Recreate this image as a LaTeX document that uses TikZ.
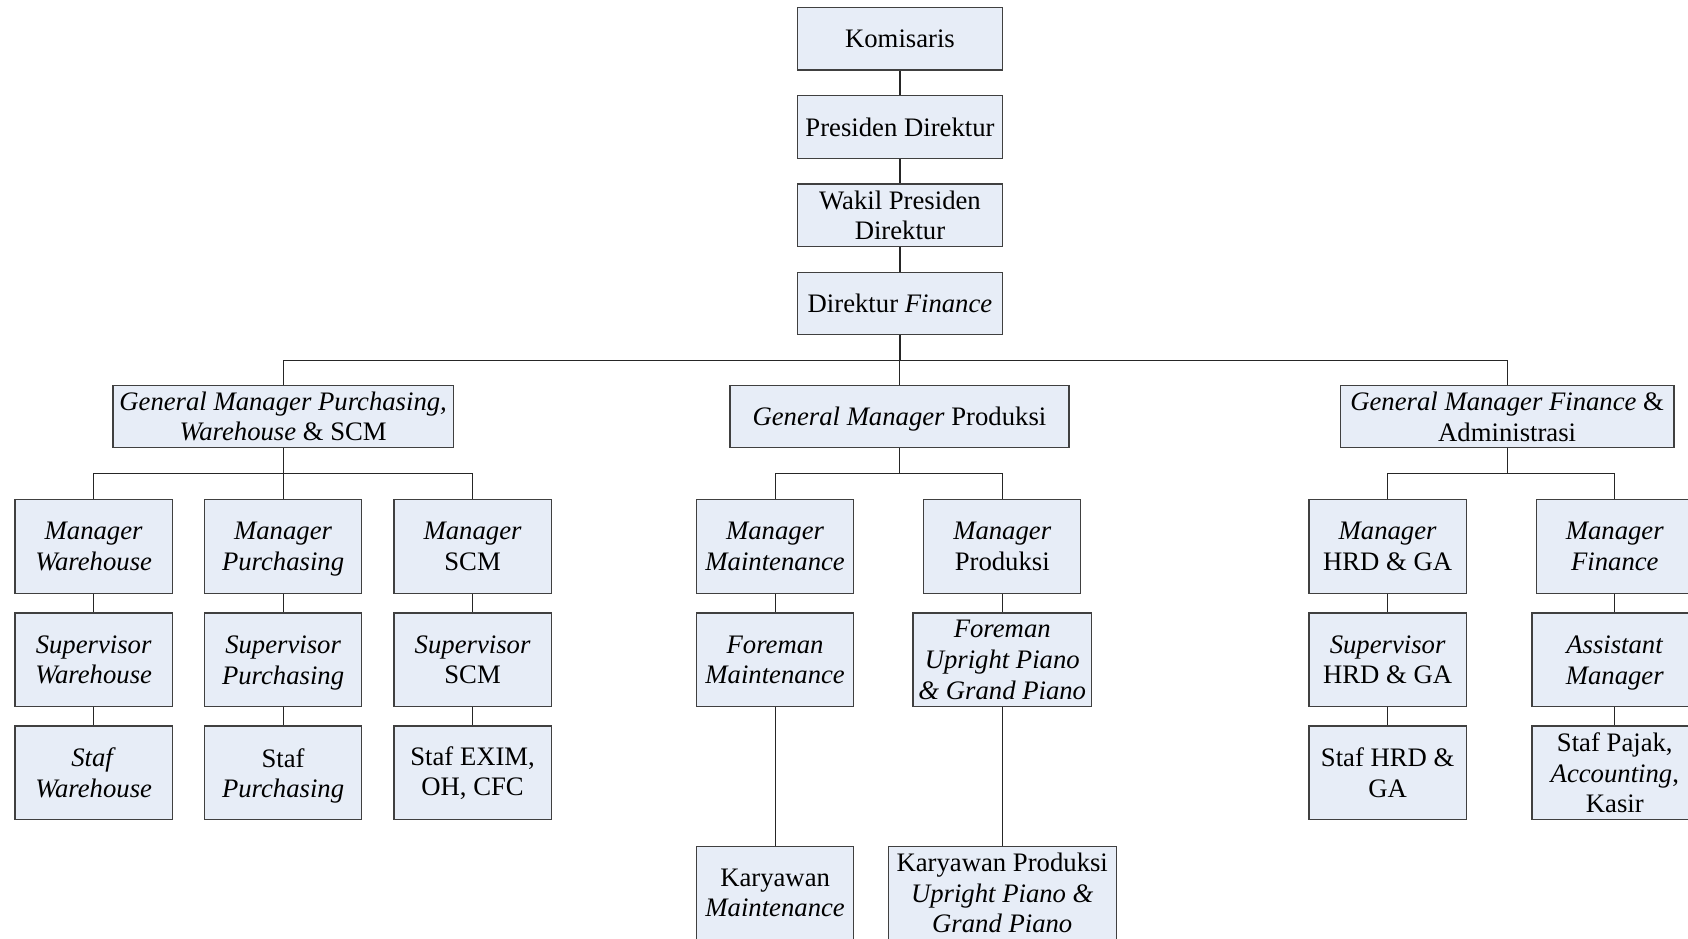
\documentclass[tikz,border=0pt]{standalone}
\usepackage{fontspec}
\setmainfont{Liberation Serif}
% last-line text whose descenders should not shift the box's centring
\newcommand{\nodepth}[1]{\raisebox{0pt}[\height][0pt]{#1}}
\begin{document}
\begin{tikzpicture}[x=0.5pt,y=-0.5pt,
  box/.style={draw=black!75,line width=0.6pt,fill=boxfill,inner sep=0pt,
    align=center,font=\fontsize{12.4}{14.2}\selectfont},
  top/.style={box,minimum width=95pt,minimum height=29pt},
  unit/.style={box,minimum width=73pt,minimum height=43.5pt},
  link/.style={draw=black!85,line width=0.5pt}]
\definecolor{boxfill}{HTML}{E7EDF7}
\useasboundingbox (0,0) rectangle (1568,872);

% board and directors
\node[top] (kom) at (836,36)  {Komisaris};
\node[top] (pd)  at (836,118) {Presiden Direktur};
\node[top] (wpd) at (836,200) {Wakil Presiden\\Direktur};
\node[top] (df)  at (836,282) {Direktur \textit{Finance}};

% general managers
\node[box,minimum width=158pt,minimum height=29pt] (gmp) at (263,387)
  {\textit{General Manager Purchasing,}\\\textit{Warehouse} \& SCM};
\node[box,minimum width=157.5pt,minimum height=29pt] (gmprod) at (835.5,387)
  {\nodepth{\textit{General Manager} Produksi}};
\node[box,minimum width=155pt,minimum height=29pt] (gmf) at (1400,387)
  {\textit{General Manager Finance} \&\\Administrasi};

% purchasing, warehouse and SCM
\node[unit] (mw)  at (87,507.5)  {\textit{Manager}\\\textit{Warehouse}};
\node[unit] (mp)  at (263,507.5) {\textit{Manager}\\\nodepth{\textit{Purchasing}}};
\node[unit] (ms)  at (439,507.5) {\textit{Manager}\\SCM};
\node[unit] (sw)  at (87,613)    {\textit{Supervisor}\\\textit{Warehouse}};
\node[unit] (sp)  at (263,613)   {\textit{Supervisor}\\\nodepth{\textit{Purchasing}}};
\node[unit] (ss)  at (439,613)   {\textit{Supervisor}\\SCM};
\node[unit] (tw)  at (87,718)    {\textit{Staf}\\\textit{Warehouse}};
\node[unit] (tp)  at (263,718)   {Staf\\\nodepth{\textit{Purchasing}}};
\node[unit] (ts)  at (439,718)   {Staf EXIM,\\OH, CFC};

% production
\node[unit] (mm)  at (720,507.5) {\textit{Manager}\\\textit{Maintenance}};
\node[unit] (mpr) at (931,507.5) {\textit{Manager}\\Produksi};
\node[unit] (fm)  at (720,613)   {\textit{Foreman}\\\textit{Maintenance}};
\node[unit,minimum width=83pt] (fu) at (931,613)
  {\textit{Foreman}\\\textit{Upright Piano}\\\textit{\& Grand Piano}};
\node[unit] (km)  at (720,829.5) {Karyawan\\\textit{Maintenance}};
\node[unit,minimum width=106pt] (kp) at (931,829.5)
  {Karyawan Produksi\\\textit{Upright Piano \&}\\\textit{Grand Piano}};

% finance and administration
\node[unit] (mh)  at (1289,507.5) {\textit{Manager}\\HRD \& GA};
\node[unit] (mf)  at (1500,507.5) {\textit{Manager}\\\textit{Finance}};
\node[unit] (sh)  at (1289,613)   {\textit{Supervisor}\\HRD \& GA};
\node[unit,minimum width=77pt] (am) at (1500,613)
  {\textit{Assistant}\\\nodepth{\textit{Manager}}};
\node[unit] (th)  at (1289,718)   {Staf HRD \&\\GA};
\node[unit,minimum width=77pt] (tk) at (1500,718)
  {Staf Pajak,\\\textit{Accounting},\\Kasir};

% bus levels
\coordinate (busA) at (0,335);
\coordinate (busB) at (0,440);

% connectors
\draw[link] (kom) -- (pd);
\draw[link] (pd) -- (wpd);
\draw[link] (wpd) -- (df);
\foreach \c in {gmp,gmprod,gmf}
  \draw[link] (df.south) -- (df.south |- busA) -| (\c.north);
\foreach \c in {mw,mp,ms}
  \draw[link] (gmp.south) -- (gmp.south |- busB) -| (\c.north);
\foreach \c in {mm,mpr}
  \draw[link] (gmprod.south) -- (gmprod.south |- busB) -| (\c.north);
\foreach \c in {mh,mf}
  \draw[link] (gmf.south) -- (gmf.south |- busB) -| (\c.north);
\draw[link] (mw) -- (sw);  \draw[link] (sw) -- (tw);
\draw[link] (mp) -- (sp);  \draw[link] (sp) -- (tp);
\draw[link] (ms) -- (ss);  \draw[link] (ss) -- (ts);
\draw[link] (mm) -- (fm);  \draw[link] (fm) -- (km);
\draw[link] (mpr) -- (fu); \draw[link] (fu) -- (kp);
\draw[link] (mh) -- (sh);  \draw[link] (sh) -- (th);
\draw[link] (mf) -- (am);  \draw[link] (am) -- (tk);
\end{tikzpicture}
\end{document}
